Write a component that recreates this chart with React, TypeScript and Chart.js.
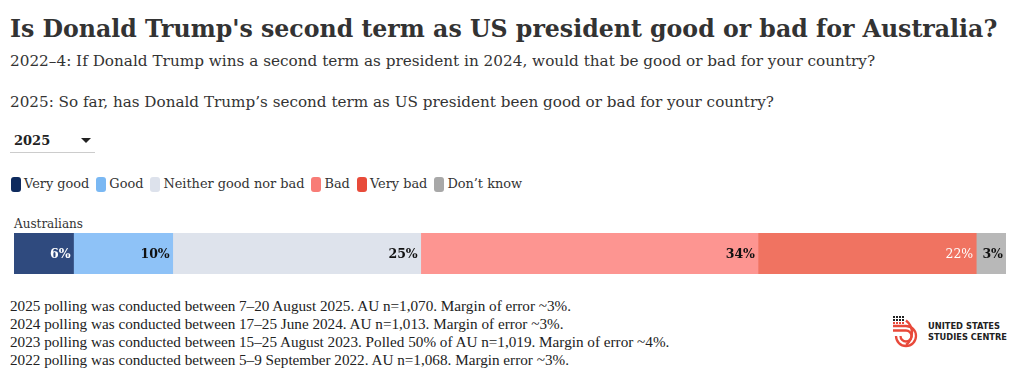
import React, { useEffect, useRef } from "react";
import { Chart, registerables } from "chart.js";

Chart.register(...registerables);

const categories = ["Australians"];
const seriesNames = ["Very good", "Good", "Neither good nor bad", "Bad", "Very bad", "Don’t know"];
const veryGood = [6];
const good = [10];
const neither = [25];
const bad = [34];
const veryBad = [22];
const dontKnow = [3];
const seriesValues = [veryGood, good, neither, bad, veryBad, dontKnow];
const barColors = ["#2f4a7e", "#8ec2f7", "#dee3ec", "#fd9591", "#f07361", "#b8b8b8"];
const legendColors = ["#0e2a5e", "#7ab8f3", "#dde2ec", "#f87c76", "#e84b3a", "#a8a8a8"];
const labelColors = ["#ffffff", "#111111", "#111111", "#111111", "#ffffff", "#111111"];
const labelWeights = ["bold", "bold", "bold", "bold", "normal", "bold"];
const footerLines = [
  "2025 polling was conducted between 7–20 August 2025. AU n=1,070. Margin of error ~3%.",
  "2024 polling was conducted between 17–25 June 2024. AU n=1,013. Margin of error ~3%.",
  "2023 polling was conducted between 15–25 August 2023. Polled 50% of AU n=1,019. Margin of error ~4%.",
  "2022 polling was conducted between 5–9 September 2022. AU n=1,068. Margin error ~3%.",
];

const SERIF = "'DejaVu Serif', serif";
const SERIF2 = "'Liberation Serif', serif";
const TEXT = "#333333";

const labelPlugin = {
  id: "segLabels",
  afterDatasetsDraw(chart: any) {
    const ctx = chart.ctx;
    ctx.save();
    chart.data.datasets.forEach((ds: any, i: number) => {
      const meta = chart.getDatasetMeta(i);
      meta.data.forEach((el: any, j: number) => {
        const v = ds.data[j];
        ctx.font = `${labelWeights[i]} 12.5px ${SERIF}`;
        ctx.fillStyle = labelColors[i];
        ctx.textAlign = "right";
        ctx.textBaseline = "middle";
        ctx.fillText(`${v}%`, el.x - 3, el.y + 1);
      });
    });
    ctx.restore();
  },
};

function BarChart() {
  const ref = useRef<HTMLCanvasElement>(null);
  useEffect(() => {
    if (!ref.current) return;
    const chart = new Chart(ref.current, {
      type: "bar",
      data: {
        labels: categories,
        datasets: seriesNames.map((name, i) => ({
          label: name,
          data: seriesValues[i],
          backgroundColor: barColors[i],
          borderWidth: 0,
          barPercentage: 1,
          categoryPercentage: 1,
        })),
      },
      options: {
        indexAxis: "y",
        animation: false,
        responsive: false,
        maintainAspectRatio: false,
        layout: { padding: 0 },
        plugins: { legend: { display: false }, tooltip: { enabled: false } },
        scales: {
          x: { stacked: true, min: 0, max: 100, display: false },
          y: { stacked: true, display: false },
        },
      },
      plugins: [labelPlugin],
    });
    return () => chart.destroy();
  }, []);
  return <canvas ref={ref} width={992} height={41} style={{ width: 992, height: 41, display: "block" }} />;
}

function Logo() {
  return (
    <svg width="128" height="34" viewBox="0 0 128 34">
      {[0, 1, 2].map((r) =>
        [0, 1, 2, 3].map((c) => (
          <rect key={`${r}-${c}`} x={2 + c * 3} y={2 + r * 3} width="2" height="2" fill={r === 2 ? "#e8493a" : "#222"} />
        ))
      )}
      <path d="M2 12 H15 A10 10 0 1 1 5 22" fill="none" stroke="#e8493a" strokeWidth="2.3" />
      <path d="M2 16.5 H15 A5.5 5.5 0 1 1 9.5 22" fill="none" stroke="#e8493a" strokeWidth="2.3" />
      <path d="M15 6.5 A15.5 15.5 0 0 1 15 31" fill="none" stroke="#e8493a" strokeWidth="2.3" />
      <text x="37" y="15" fontFamily="'DejaVu Sans', sans-serif" fontWeight="bold" fontSize="8.8" fill="#222" textLength="72" lengthAdjust="spacingAndGlyphs">UNITED STATES</text>
      <text x="37" y="26" fontFamily="'DejaVu Sans', sans-serif" fontWeight="bold" fontSize="8.8" fill="#222" textLength="79" lengthAdjust="spacingAndGlyphs">STUDIES CENTRE</text>
    </svg>
  );
}

export default function App() {
  const abs = (x: number, y: number): React.CSSProperties => ({ position: "absolute", left: x - 8, top: y - 8 });
  return (
    <div style={{ position: "relative", width: 1004, height: 365, color: TEXT, fontFamily: SERIF }}>
      <div style={{ ...abs(10, 12), fontSize: 23.65, lineHeight: "34px", fontWeight: "bold", whiteSpace: "nowrap" }}>
        Is Donald Trump's second term as US president good or bad for Australia?
      </div>
      <div style={{ ...abs(10, 50), fontSize: 15.25, lineHeight: "22px", whiteSpace: "nowrap" }}>
        2022–4: If Donald Trump wins a second term as president in 2024, would that be good or bad for your country?
      </div>
      <div style={{ ...abs(10, 91), fontSize: 15.2, lineHeight: "22px", whiteSpace: "nowrap" }}>
        2025: So far, has Donald Trump’s second term as US president been good or bad for your country?
      </div>
      <div style={{ ...abs(10, 130), width: 85, height: 22, borderBottom: "1px solid #cccccc" }}>
        <span style={{ position: "absolute", left: 4, top: 1, fontSize: 13, fontWeight: "bold", lineHeight: "20px", color: "#222" }}>2025</span>
        <span style={{ position: "absolute", left: 71, top: 8, width: 0, height: 0, borderLeft: "5px solid transparent", borderRight: "5px solid transparent", borderTop: "5px solid #222" }} />
      </div>
      <div style={{ ...abs(11, 175), display: "flex", alignItems: "center", fontSize: 12.9, lineHeight: "18px", whiteSpace: "nowrap" }}>
        {seriesNames.map((n, i) => (
          <div key={n} style={{ display: "flex", alignItems: "center", marginRight: 7 }}>
            <span style={{ display: "inline-block", width: 10, height: 15, borderRadius: 3, background: legendColors[i], marginRight: 3 }} />
            <span>{n}</span>
          </div>
        ))}
      </div>
      <div style={{ ...abs(14, 216), fontSize: 12, lineHeight: "16px" }}>{categories[0]}</div>
      <div style={abs(14, 233)}>
        <BarChart />
      </div>
      <div style={{ ...abs(10, 297), fontSize: 15.2, lineHeight: "18px", fontFamily: SERIF2, whiteSpace: "nowrap", color: "#222" }}>
        {footerLines.map((l) => (
          <div key={l}>{l}</div>
        ))}
      </div>
      <div style={abs(891, 314)}>
        <Logo />
      </div>
    </div>
  );
}
